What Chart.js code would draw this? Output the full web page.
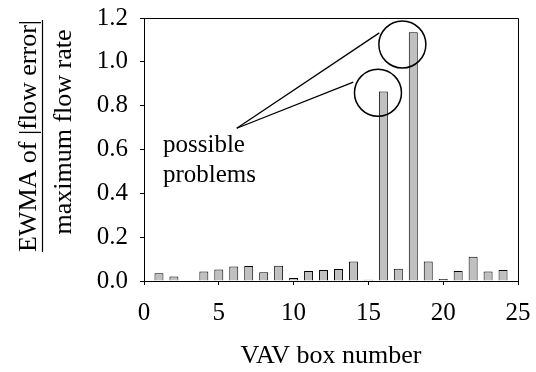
<!DOCTYPE html>
<html>
<head>
<meta charset="utf-8">
<script src="https://cdn.jsdelivr.net/npm/chart.js@4/dist/chart.umd.min.js"></script>
<style>
  html, body { margin: 0; padding: 0; background: #fff; }
  #wrap { width: 536px; height: 372px; position: relative; }
</style>
</head>
<body>
<div id="wrap"><canvas id="chart"></canvas></div>
<script>
// VAV box numbers and their EWMA of |flow error| / max flow rate
const boxNumbers = [1, 2, 3, 4, 5, 6, 7, 8, 9, 10, 11, 12, 13, 14, 15, 16, 17, 18, 19, 20, 21, 22, 23, 24];
const ewmaValues = [0.035, 0.020, 0.000, 0.043, 0.052, 0.066, 0.069, 0.040, 0.070, 0.014, 0.046, 0.050,
                    0.055, 0.089, 0.006, 0.865, 0.056, 1.135, 0.089, 0.009, 0.046, 0.111, 0.043, 0.050];
const xTicks = [0, 5, 10, 15, 20, 25];
const yTicks = [0, 0.2, 0.4, 0.6, 0.8, 1.0, 1.2];

// annotation: circles round the two high bars, and leader lines to the label
const circleCenters = [[15.64, 0.859], [17.27, 1.079]];
const leaderStart = [6.2, 0.697];
const leaderEnds = [[13.99, 0.907], [15.73, 1.132]];
const noteLines = ['possible', 'problems'];

const serif = '"Liberation Serif", "Times New Roman", serif';

const annotate = {
    id: 'annotate',
    afterDatasetsDraw(chart) {
        const ctx = chart.ctx;
        const xs = chart.scales.x, ys = chart.scales.y;
        const area = chart.chartArea;
        ctx.save();
        ctx.strokeStyle = '#000';
        ctx.lineWidth = 1;

        // top and right frame lines
        ctx.beginPath();
        ctx.moveTo(area.left, area.top + 0.5);
        ctx.lineTo(area.right + 0.5, area.top + 0.5);
        ctx.lineTo(area.right + 0.5, area.bottom);
        ctx.stroke();

        // circles
        ctx.lineWidth = 1.5;
        circleCenters.forEach(c => {
            ctx.beginPath();
            ctx.arc(xs.getPixelForValue(c[0]), ys.getPixelForValue(c[1]), 23.5, 0, Math.PI * 2);
            ctx.stroke();
        });

        // leader lines
        ctx.lineWidth = 1.3;
        leaderEnds.forEach(e => {
            ctx.beginPath();
            ctx.moveTo(xs.getPixelForValue(leaderStart[0]), ys.getPixelForValue(leaderStart[1]));
            ctx.lineTo(xs.getPixelForValue(e[0]), ys.getPixelForValue(e[1]));
            ctx.stroke();
        });

        // label
        ctx.fillStyle = '#000';
        ctx.font = '25px ' + serif;
        ctx.textAlign = 'left';
        ctx.textBaseline = 'alphabetic';
        noteLines.forEach((t, i) => ctx.fillText(t, 163, 152 + i * 30));
        ctx.restore();
    }
};

// two-line fraction title for the y axis
const yTitle = {
    id: 'yTitle',
    afterDraw(chart) {
        const ctx = chart.ctx;
        const top = 'EWMA of |flow error|';
        const bottom = 'maximum flow rate';
        const cy = 136;
        ctx.save();
        ctx.fillStyle = '#000';
        ctx.strokeStyle = '#000';
        ctx.font = '26px ' + serif;
        ctx.textAlign = 'center';
        ctx.textBaseline = 'alphabetic';
        const w = ctx.measureText(top).width;

        ctx.save();
        ctx.translate(36, cy);
        ctx.rotate(-Math.PI / 2);
        ctx.fillText(top, 0, 0);
        ctx.restore();

        ctx.beginPath();
        ctx.lineWidth = 1.2;
        ctx.moveTo(42.5, cy - w / 2);
        ctx.lineTo(42.5, cy + w / 2);
        ctx.stroke();

        ctx.save();
        ctx.translate(71, cy - 4);
        ctx.rotate(-Math.PI / 2);
        ctx.fillText(bottom, 0, 0);
        ctx.restore();
        ctx.restore();
    }
};

const ctx = document.getElementById('chart').getContext('2d');
new Chart(ctx, {
    type: 'bar',
    data: {
        datasets: [{
            data: boxNumbers.map((b, i) => ({ x: b, y: ewmaValues[i] })),
            backgroundColor: '#c0c0c0',
            borderColor: '#000',
            borderWidth: 1,
            barPercentage: 0.6,
            categoryPercentage: 1.0
        }]
    },
    options: {
        responsive: true,
        maintainAspectRatio: false,
        animation: false,
        layout: { padding: { left: 0, right: 18, top: 18, bottom: 0 } },
        plugins: {
            legend: { display: false },
            tooltip: { enabled: false }
        },
        scales: {
            x: {
                type: 'linear',
                min: 0,
                max: 25,
                offset: false,
                afterFit: s => { s.height = 91; s.paddingLeft = 0; s.paddingRight = 0; },
                afterBuildTicks: s => { s.ticks = xTicks.map(v => ({ value: v })); },
                ticks: {
                    color: '#000',
                    font: { family: serif, size: 25 },
                    padding: 13,
                    maxRotation: 0
                },
                grid: { drawOnChartArea: false, offset: false, color: '#000', tickLength: 4 },
                border: { color: '#000', width: 1 },
                title: {
                    display: true,
                    text: 'VAV box number',
                    color: '#000',
                    font: { family: serif, size: 26 },
                    padding: { top: 0, bottom: 0 }
                }
            },
            y: {
                min: 0,
                max: 1.2,
                afterFit: s => { s.width = 144; s.paddingTop = 0; s.paddingBottom = 0; },
                afterBuildTicks: s => { s.ticks = yTicks.map(v => ({ value: v })); },
                ticks: {
                    color: '#000',
                    font: { family: serif, size: 25 },
                    padding: 12,
                    callback: v => v.toFixed(1)
                },
                grid: { drawOnChartArea: false, color: '#000', tickLength: 4 },
                border: { color: '#000', width: 1 }
            }
        }
    },
    plugins: [annotate, yTitle]
});
</script>
</body>
</html>
